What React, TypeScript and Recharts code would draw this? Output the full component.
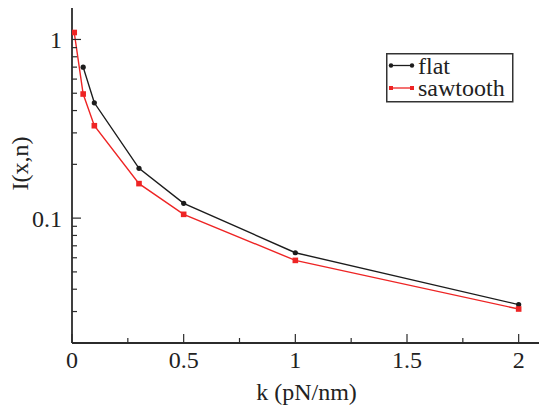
import { LineChart, Line, XAxis, YAxis, Label } from "recharts";

const flatK = [0.05, 0.1, 0.3, 0.5, 1, 2];
const flatI = [0.7, 0.442, 0.19, 0.121, 0.064, 0.0328];
const sawK = [0.01, 0.05, 0.1, 0.3, 0.5, 1, 2];
const sawI = [1.094, 0.495, 0.329, 0.156, 0.105, 0.058, 0.031];

const xTicks = [0, 0.25, 0.5, 0.75, 1, 1.25, 1.5, 1.75, 2];
const xLabels = [0, 0.5, 1, 1.5, 2];
const yTicks = [0.02, 0.03, 0.04, 0.05, 0.06, 0.07, 0.08, 0.09, 0.1, 0.2, 0.3, 0.4, 0.5, 0.6, 0.7, 0.8, 0.9, 1];
const yLabels = [0.1, 1];

const flatData = flatK.map((k, i) => ({ k, v: flatI[i] }));
const sawData = sawK.map((k, i) => ({ k, v: sawI[i] }));

const FONT = "'Liberation Serif', 'Times New Roman', Times, 'DejaVu Serif', 'Noto Serif', serif";
const AXIS = "#2b2b2b";
const BLACK = "#1c1c1c";
const RED = "#ee2424";
const txt = { fontFamily: FONT, fontSize: 24 };

const isX = (v: number) => xLabels.some((t) => Math.abs(t - v) < 1e-9);
const isY = (v: number) => yLabels.some((t) => Math.abs(t - v) < 1e-9);

function BottomTick({ x, y, payload }: any) {
  const len = isX(payload.value) ? 9 : 5;
  return (
    <g>
      <line x1={x} x2={x} y1={y} y2={y - len} stroke={AXIS} strokeWidth={1.2} />
      {isX(payload.value) && (
        <text x={x} y={y + 25} textAnchor="middle" style={txt} fill="#222">
          {payload.value}
        </text>
      )}
    </g>
  );
}

function TopTick({ x, y, payload }: any) {
  const len = isX(payload.value) ? 9 : 5;
  return <line x1={x} x2={x} y1={y} y2={y + len} stroke={AXIS} strokeWidth={1.2} />;
}

function LeftTick({ x, y, payload }: any) {
  const len = isY(payload.value) ? 9 : 5;
  return (
    <g>
      <line x1={x} x2={x + len} y1={y} y2={y} stroke={AXIS} strokeWidth={1.2} />
      {isY(payload.value) && (
        <text x={x - 10} y={y + 8.5} textAnchor="end" style={txt} fill="#222">
          {payload.value}
        </text>
      )}
    </g>
  );
}

function RightTick({ x, y, payload }: any) {
  const len = isY(payload.value) ? 9 : 5;
  return <line x1={x} x2={x - len} y1={y} y2={y} stroke={AXIS} strokeWidth={1.2} />;
}

function FlatDot({ cx, cy }: any) {
  return <circle cx={cx} cy={cy} r={2.6} fill={BLACK} />;
}

function SawDot({ cx, cy }: any) {
  return <rect x={cx - 2.8} y={cy - 2.8} width={5.6} height={5.6} fill={RED} />;
}

function LegendBox() {
  return (
    <svg width={128} height={50} style={{ display: "block" }}>
      <rect x={0.75} y={0.75} width={126} height={48} fill="#fff" stroke="#333" strokeWidth={1.5} />
      <line x1={5} x2={26} y1={12.5} y2={12.5} stroke={BLACK} strokeWidth={1.3} />
      <circle cx={5} cy={12.5} r={2.2} fill={BLACK} />
      <circle cx={26} cy={12.5} r={2.2} fill={BLACK} />
      <text x={32} y={21} style={txt} fill="#222">flat</text>
      <line x1={5} x2={26} y1={35} y2={35} stroke={RED} strokeWidth={1.3} />
      <rect x={3} y={33} width={4} height={4} fill={RED} />
      <rect x={24} y={33} width={4} height={4} fill={RED} />
      <text x={32} y={42.5} style={txt} fill="#222">sawtooth</text>
    </svg>
  );
}

function YTitle({ viewBox }: any) {
  const cx = 20;
  const cy = viewBox.y + viewBox.height / 2 - 12;
  return (
    <text x={cx} y={cy} transform={`rotate(-90 ${cx} ${cy})`} textAnchor="middle" dominantBaseline="central" style={txt} fill="#222">
      I(x,n)
    </text>
  );
}

function XTitle({ viewBox }: any) {
  const cx = viewBox.x + viewBox.width / 2;
  return (
    <text x={cx} y={400} textAnchor="middle" style={txt} fill="#222">
      k (pN/nm)
    </text>
  );
}

export default function App() {
  return (
    <div style={{ position: "absolute", left: 0, top: 0, width: 539, height: 409, overflow: "hidden", background: "#fff" }}>
      <LineChart width={541} height={409} margin={{ top: 8, right: 0, bottom: 0, left: 0 }}>
        <XAxis
          xAxisId="b"
          type="number"
          dataKey="k"
          domain={[0, 2.1]}
          allowDataOverflow
          ticks={xTicks}
          interval={0}
          height={66}
          tickSize={0}
          tickMargin={0}
          tickLine={false}
          tick={<BottomTick />}
          axisLine={{ stroke: AXIS, strokeWidth: 1.8 }}
        >
          <Label content={<XTitle />} />
        </XAxis>
        <XAxis
          xAxisId="t"
          orientation="top"
          type="number"
          dataKey="k"
          domain={[0, 2.1]}
          allowDataOverflow
          ticks={xTicks}
          interval={0}
          height={0}
          tickSize={0}
          tickMargin={0}
          tickLine={false}
          tick={<TopTick />}
          axisLine={{ stroke: AXIS, strokeWidth: 1.8 }}
        />
        <YAxis
          yAxisId="l"
          type="number"
          scale="log"
          domain={[0.02, 1.5]}
          allowDataOverflow
          ticks={yTicks}
          interval={0}
          width={72}
          tickSize={0}
          tickMargin={0}
          tickLine={false}
          tick={<LeftTick />}
          axisLine={{ stroke: AXIS, strokeWidth: 1.8 }}
        >
          <Label content={<YTitle />} />
        </YAxis>
        <YAxis
          yAxisId="r"
          orientation="right"
          type="number"
          scale="log"
          domain={[0.02, 1.5]}
          allowDataOverflow
          ticks={yTicks}
          interval={0}
          width={0}
          tickSize={0}
          tickMargin={0}
          tickLine={false}
          tick={<RightTick />}
          axisLine={{ stroke: AXIS, strokeWidth: 1.8 }}
        />
        <Line
          xAxisId="b"
          yAxisId="l"
          data={flatData}
          dataKey="v"
          name="flat"
          stroke={BLACK}
          strokeWidth={1.4}
          dot={<FlatDot />}
          isAnimationActive={false}
        />
        <Line
          xAxisId="b"
          yAxisId="l"
          data={sawData}
          dataKey="v"
          name="sawtooth"
          stroke={RED}
          strokeWidth={1.4}
          dot={<SawDot />}
          isAnimationActive={false}
        />
      </LineChart>
      <div style={{ position: "absolute", left: 386, top: 53 }}>
        <LegendBox />
      </div>
    </div>
  );
}
